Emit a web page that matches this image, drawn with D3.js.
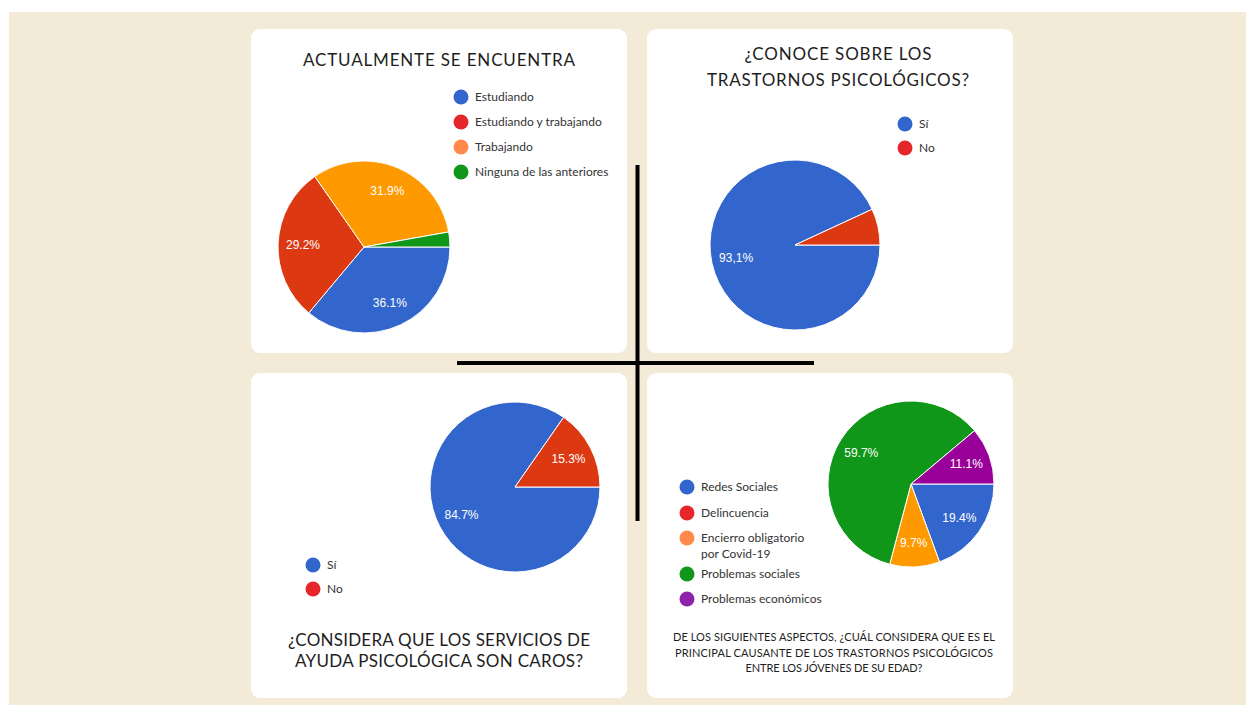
<!DOCTYPE html>
<html>
<head>
<meta charset="utf-8">
<script src="https://cdn.jsdelivr.net/npm/d3@7"></script>
<style>
  body { margin: 0; background: #fff; }
  svg { display: block; }
</style>
</head>
<body>
<svg id="chart" width="1246" height="706"></svg>
<script>
// --- data ---
const situacionLabels = ['Estudiando', 'Estudiando y trabajando', 'Trabajando', 'Ninguna de las anteriores'];
const situacionValues = [36.1, 29.2, 31.9, 2.8];

const conoceLabels = ['Sí', 'No'];
const conoceValues = [93.1, 6.9];

const carosLabels = ['Sí', 'No'];
const carosValues = [84.7, 15.3];

const causaLabels = ['Redes Sociales', 'Delincuencia', 'Encierro obligatorio|por Covid-19', 'Problemas sociales', 'Problemas económicos'];
const causaValues = [19.4, 0, 9.7, 59.7, 11.1];

const titles = {
  situacion: ['ACTUALMENTE SE ENCUENTRA'],
  conoce: ['¿CONOCE SOBRE LOS', 'TRASTORNOS PSICOLÓGICOS?'],
  caros: ['¿CONSIDERA QUE LOS SERVICIOS DE', 'AYUDA PSICOLÓGICA SON CAROS?'],
  causa: ['DE LOS SIGUIENTES ASPECTOS, ¿CUÁL CONSIDERA QUE ES EL', 'PRINCIPAL CAUSANTE DE LOS TRASTORNOS PSICOLÓGICOS', 'ENTRE LOS JÓVENES DE SU EDAD?']
};

// --- styles ---
const sliceColors = ['#3366cc', '#dc3912', '#ff9900', '#109618', '#990099'];
const legendColors = ['#3366cc', '#e5262b', '#ff8a4c', '#109618', '#8e24aa'];

let svg = d3.select('#chart');

svg.append('rect')
  .attr('x', 9).attr('y', 12)
  .attr('width', 1237).attr('height', 693)
  .attr('fill', '#f3ebd7');

let panels = [
  { x: 251, y: 29, w: 376, h: 324 },
  { x: 647, y: 29, w: 366, h: 324 },
  { x: 251, y: 373, w: 376, h: 325 },
  { x: 647, y: 373, w: 366, h: 325 }
];
svg.selectAll('.panel')
  .data(panels)
  .enter()
  .append('rect')
  .classed('panel', true)
  .attr('x', d => d.x).attr('y', d => d.y)
  .attr('width', d => d.w).attr('height', d => d.h)
  .attr('rx', 9)
  .attr('fill', '#fff');

// cross
svg.append('line')
  .attr('x1', 637.5).attr('x2', 637.5).attr('y1', 165).attr('y2', 521)
  .attr('stroke', '#000').attr('stroke-width', 4);
svg.append('line')
  .attr('x1', 457).attr('x2', 814).attr('y1', 363).attr('y2', 363)
  .attr('stroke', '#000').attr('stroke-width', 4);

function drawPie(cx, cy, r, values, sep) {
  let g = svg.append('g').attr('transform', `translate(${cx},${cy})`);
  let pie = d3.pie()
    .sort(null)
    .startAngle(Math.PI / 2)
    .endAngle(Math.PI / 2 + 2 * Math.PI);
  let arcs = pie(values);
  let arc = d3.arc().innerRadius(0).outerRadius(r);
  let labelArc = d3.arc().innerRadius(r * 0.71).outerRadius(r * 0.71);
  let total = d3.sum(values);

  g.selectAll('path')
    .data(arcs.filter(d => d.value > 0))
    .enter()
    .append('path')
    .attr('d', arc)
    .attr('fill', d => sliceColors[d.index])
    .attr('stroke', '#fff')
    .attr('stroke-width', 1);

  let fmt = d3.format('.1f');
  g.selectAll('text')
    .data(arcs.filter(d => d.value / total >= 0.08))
    .enter()
    .append('text')
    .attr('transform', d => `translate(${labelArc.centroid(d)})`)
    .attr('text-anchor', 'middle')
    .attr('dy', '0.35em')
    .attr('font-family', '"Liberation Sans", Arial, sans-serif')
    .attr('font-size', 12)
    .attr('fill', '#fff')
    .text(d => fmt(d.value).replace('.', sep) + '%');
}

function drawLegend(x, y, labels, steps) {
  let g = svg.append('g').attr('transform', `translate(${x},${y})`);
  let items = g.selectAll('.item')
    .data(labels)
    .enter()
    .append('g')
    .classed('item', true)
    .attr('transform', (d, i) => `translate(0,${steps[i]})`);
  items.append('circle')
    .attr('r', 7.5)
    .attr('fill', (d, i) => legendColors[i]);
  items.each(function (d) {
    let lines = d.split('|');
    let t = d3.select(this).append('text')
      .attr('x', 14)
      .attr('font-family', 'Lato, "Open Sans", sans-serif')
      .attr('font-size', 12)
      .attr('fill', '#333');
    lines.forEach((l, j) => {
      t.append('tspan').attr('x', 14).attr('dy', j === 0 ? '0.35em' : '1.3em').text(l);
    });
  });
}

function drawTitle(cx, baselines, lines, size, widths) {
  lines.forEach((l, i) => {
    svg.append('text')
      .attr('x', cx).attr('y', baselines[i])
      .attr('text-anchor', 'middle')
      .attr('font-family', 'Lato, "Open Sans", sans-serif')
      .attr('font-size', size)
      .attr('fill', '#1e1e1e')
      .attr('textLength', widths[i])
      .attr('lengthAdjust', 'spacing')
      .text(l);
  });
}

// panel 1
drawPie(364, 247, 86, situacionValues, '.');
drawLegend(461, 97, situacionLabels, [0, 25, 50, 75]);
drawTitle(439, [66], titles.situacion, 17, [272]);

// panel 2
drawPie(795, 245, 85, conoceValues, ',');
drawLegend(905, 124, conoceLabels, [0, 24]);
drawTitle(838, [60, 86], titles.conoce, 17, [187, 262]);

// panel 3
drawPie(515, 487, 85, carosValues, '.');
drawLegend(313, 565, carosLabels, [0, 24]);
drawTitle(439, [646, 667], titles.caros, 17, [302, 288]);

// panel 4
drawPie(911, 484, 83, causaValues, '.');
drawLegend(687, 487, causaLabels, [0, 26, 51, 87, 112]);
drawTitle(834, [641, 657, 672], titles.causa, 11, [322, 318, 177]);
</script>
</body>
</html>
